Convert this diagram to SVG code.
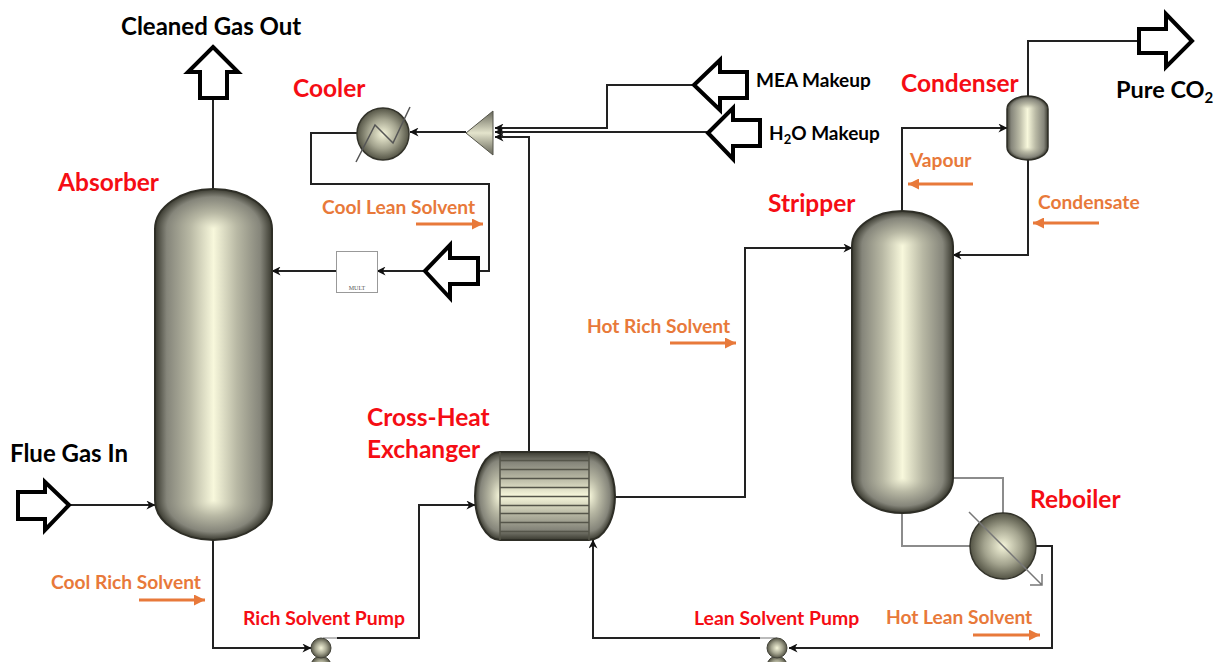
<svg xmlns="http://www.w3.org/2000/svg" width="1218" height="662" viewBox="0 0 1218 662">
<style>
text{font-family:Lato,Carlito,"Open Sans",sans-serif;font-weight:700}
.r{fill:#f50d14;font-size:24.5px}
.k{fill:#000;font-size:24px}
.m{fill:#000;font-size:19px}
.o{fill:#e8793a;font-size:19.200px}
.p{fill:#f50d14;font-size:19.400px}
.c{fill:none;stroke:#222;stroke-width:2}
.g{fill:none;stroke:#8c8c8c;stroke-width:2}
.big{fill:#fff;stroke:#000;stroke-width:4;stroke-linejoin:miter}
.oa{fill:none;stroke:#e8793a;stroke-width:3}
.o1{fill:none;stroke:#2e2e26;stroke-width:2}
</style>
<defs>
<linearGradient id="cyl" x1="0" x2="1" y1="0" y2="0"><stop offset="0" stop-color="#3a3a30"/><stop offset=".1" stop-color="#85857a"/><stop offset=".3" stop-color="#b8b8a4"/><stop offset=".5" stop-color="#f8f8dc"/><stop offset=".7" stop-color="#b8b8a4"/><stop offset=".9" stop-color="#85857a"/><stop offset="1" stop-color="#3a3a30"/></linearGradient>
<linearGradient id="cylv" x1="0" x2="0" y1="0" y2="1"><stop offset="0" stop-color="#3a3a30"/><stop offset=".12" stop-color="#85857a"/><stop offset=".3" stop-color="#b8b8a4"/><stop offset=".5" stop-color="#f8f8dc"/><stop offset=".7" stop-color="#b8b8a4"/><stop offset=".88" stop-color="#85857a"/><stop offset="1" stop-color="#3a3a30"/></linearGradient>
<radialGradient id="domeT" cx="0" cy="0" r="1" gradientTransform="translate(.5 1) scale(.5 1)"><stop offset="0" stop-color="#f8f8dc"/><stop offset=".4" stop-color="#b8b8a4"/><stop offset=".8" stop-color="#85857a"/><stop offset="1" stop-color="#3a3a30"/></radialGradient>
<radialGradient id="domeB" cx="0" cy="0" r="1" gradientTransform="translate(.5 0) scale(.5 1)"><stop offset="0" stop-color="#f8f8dc"/><stop offset=".4" stop-color="#b8b8a4"/><stop offset=".8" stop-color="#85857a"/><stop offset="1" stop-color="#3a3a30"/></radialGradient>
<radialGradient id="capL" cx="0" cy="0" r="1" gradientTransform="translate(1 .5) scale(1 .5)"><stop offset="0" stop-color="#f8f8dc"/><stop offset=".4" stop-color="#b8b8a4"/><stop offset=".8" stop-color="#85857a"/><stop offset="1" stop-color="#3a3a30"/></radialGradient>
<radialGradient id="capR" cx="0" cy="0" r="1" gradientTransform="translate(0 .5) scale(1 .5)"><stop offset="0" stop-color="#f8f8dc"/><stop offset=".4" stop-color="#b8b8a4"/><stop offset=".8" stop-color="#85857a"/><stop offset="1" stop-color="#3a3a30"/></radialGradient>
<radialGradient id="ball" cx=".5" cy=".5" r=".52"><stop offset="0" stop-color="#f5f5da"/><stop offset=".55" stop-color="#a3a38e"/><stop offset="1" stop-color="#4c4c3e"/></radialGradient>
<linearGradient id="tri" x1="0" x2="0" y1="0" y2="1"><stop offset="0" stop-color="#66665a"/><stop offset=".5" stop-color="#e4e4cc"/><stop offset="1" stop-color="#66665a"/></linearGradient>
<marker id="a" viewBox="0 0 10 10" refX="9.500" refY="5" markerWidth="9" markerHeight="9" markerUnits="userSpaceOnUse" orient="auto"><path d="M0 0L10 5L0 10L3 5Z" fill="#111"/></marker>
<marker id="oh" viewBox="0 0 10 10" refX="10" refY="5" markerWidth="11" markerHeight="11" markerUnits="userSpaceOnUse" orient="auto"><path d="M0 0L10 5L0 10Z" fill="#e8793a"/></marker>
</defs>

<g id="connectors">
<path class="c" d="M213 98V189"/>
<path class="c" d="M70 505H155" marker-end="url(#a)"/>
<path class="c" d="M213 540V648H311" marker-end="url(#a)"/>
<path class="g" d="M323 638H337" style="stroke:#bbb"/>
<path class="c" d="M337 638H419V505H475" marker-end="url(#a)"/>
<path class="c" d="M529 452V137H495" marker-end="url(#a)"/>
<path class="c" d="M693 85H607V128H495" marker-end="url(#a)"/>
<path class="c" d="M707 132H495" marker-end="url(#a)"/>
<path class="c" d="M466 132H410" marker-end="url(#a)"/>
<path class="c" d="M357 133H311V184H489V271H478"/>
<path class="c" d="M424 271H377" marker-end="url(#a)"/>
<path class="c" d="M336 271H272" marker-end="url(#a)"/>
<path class="c" d="M615 497H745V248H852" marker-end="url(#a)"/>
<path class="c" d="M902 211V128H1007" marker-end="url(#a)"/>
<path class="c" d="M1028 96V41H1138"/>
<path class="c" d="M1028 160V255H953" marker-end="url(#a)"/>
<path class="g" d="M953 478H1003V513"/>
<path class="g" d="M902 513V546H970"/>
<path class="c" d="M1036 546H1052V648H789" marker-end="url(#a)"/>
<path class="c" d="M760 638H593V540" marker-end="url(#a)"/>
<path class="g" d="M777 638H760" style="stroke:#bbb"/>
</g>

<g id="absorber">
<rect x="155" y="229" width="117" height="271" fill="url(#cyl)"/>
<path fill="url(#domeT)" d="M155 229A58.500 40 0 0 1 272 229Z"/>
<path fill="url(#domeB)" d="M155 500A58.500 40 0 0 0 272 500Z"/>
<path class="o1" d="M155 229A58.500 40 0 0 1 272 229V500A58.500 40 0 0 1 155 500Z"/>
</g>
<g id="stripper">
<rect x="852" y="246" width="101" height="232" fill="url(#cyl)"/>
<path fill="url(#domeT)" d="M852 246A50.500 35 0 0 1 953 246Z"/>
<path fill="url(#domeB)" d="M852 478A50.500 35 0 0 0 953 478Z"/>
<path class="o1" d="M852 246A50.500 35 0 0 1 953 246V478A50.500 35 0 0 1 852 478Z"/>
</g>
<g id="condenser">
<rect x="1007" y="109" width="41" height="38" fill="url(#cyl)"/>
<path fill="url(#domeT)" d="M1007 109A20.500 13 0 0 1 1048 109Z"/>
<path fill="url(#domeB)" d="M1007 147A20.500 13 0 0 0 1048 147Z"/>
<path class="o1" style="stroke-width:1.500" d="M1007 109A20.500 13 0 0 1 1048 109V147A20.500 13 0 0 1 1007 147Z"/>
</g>
<g id="cross-heat-exchanger">
<path fill="url(#capL)" d="M500 452A25 44 0 0 0 500 540Z"/>
<path fill="url(#capR)" d="M589 452A26 44 0 0 1 589 540Z"/>
<rect x="500" y="452" width="89" height="88" fill="url(#cylv)"/>
<path class="o1" d="M500 452A25 44 0 0 0 500 540H589A26 44 0 0 0 589 452Z"/>
<path fill="none" stroke="#55554a" stroke-width="1.500" d="M500 452V540M589 452V540M500 460.500H589M500 469.500H589M500 478.500H589M500 487.500H589M500 496.500H589M500 505.500H589M500 513.500H589M500 522.500H589M500 531.500H589"/>
</g>
<g id="cooler">
<circle cx="383" cy="134" r="26" fill="url(#ball)" stroke="#33332a" stroke-width="1.500"/>
<path fill="none" stroke="#555" stroke-width="1.500" d="M356 162L375 125L393 143L410 107"/>
</g>
<g id="reboiler">
<circle cx="1003" cy="546" r="33" fill="url(#ball)" stroke="#33332a" stroke-width="1.500"/>
<path fill="none" stroke="#777" stroke-width="1.500" d="M969 512L1042 585M1042 574V585H1030"/>
</g>
<g id="splitter"><path d="M466 133L493 111V155Z" fill="url(#tri)" stroke="#55554a"/></g>
<g id="mult">
<rect x="336.500" y="251.500" width="41" height="41" fill="#fff" stroke="#999"/>
<text x="357" y="290" text-anchor="middle" style="font-family:'Liberation Serif',serif;font-size:6px;font-weight:400;fill:#555">MULT</text>
</g>
<g id="rich-pump">
<circle cx="321" cy="666" r="10" fill="url(#ball)" stroke="#44443a"/>
<circle cx="321" cy="648" r="10" fill="url(#ball)" stroke="#44443a"/>
</g>
<g id="lean-pump">
<circle cx="777" cy="666" r="10" fill="url(#ball)" stroke="#44443a"/>
<circle cx="777" cy="648" r="10" fill="url(#ball)" stroke="#44443a"/>
</g>

<g id="big-arrows">
<path id="gas-out" class="big" d="M213 47L238 72H227V98H200V72H188Z"/>
<path id="flue-in" class="big" d="M69 505L45 482V492H18V519H45V530Z"/>
<path id="co2-out" class="big" d="M1192 41L1166 14V29H1139V53H1166V67Z"/>
<path id="mea" class="big" d="M694 85L720 60V72H747V98H720V110Z"/>
<path id="h2o" class="big" d="M708 133L733 108V120H760V146H733V159Z"/>
<path id="lean-feed" class="big" d="M425 271L450 245V258H478V284H450V298Z"/>
</g>

<g id="flow-arrows">
<path class="oa" d="M416 224H483" marker-end="url(#oh)"/>
<path class="oa" d="M139 600H205" marker-end="url(#oh)"/>
<path class="oa" d="M670 343H736" marker-end="url(#oh)"/>
<path class="oa" d="M973 184H908" marker-end="url(#oh)"/>
<path class="oa" d="M1099 223H1033" marker-end="url(#oh)"/>
<path class="oa" d="M973 635H1040" marker-end="url(#oh)"/>
</g>

<g id="labels">
<text class="k" x="121" y="35">Cleaned Gas Out</text>
<text class="r" x="293" y="97">Cooler</text>
<text class="r" x="58" y="191">Absorber</text>
<text class="r" x="901" y="92">Condenser</text>
<text class="r" x="768" y="212">Stripper</text>
<text class="r" x="367" y="426">Cross-Heat</text>
<text class="r" x="367" y="458">Exchanger</text>
<text class="r" x="1030" y="508">Reboiler</text>
<text class="k" x="10" y="462">Flue Gas In</text>
<text class="k" style="font-size:23.500px" x="1116" y="98">Pure CO<tspan font-size="15" dy="5">2</tspan></text>
<text class="m" x="756" y="87">MEA Makeup</text>
<text class="m" x="769" y="140">H<tspan font-size="13" dy="4">2</tspan><tspan dy="-4">O Makeup</tspan></text>
<text class="o" x="322" y="214">Cool Lean Solvent</text>
<text class="o" x="51" y="589">Cool Rich Solvent</text>
<text class="o" x="587" y="333">Hot Rich Solvent</text>
<text class="o" x="910" y="167">Vapour</text>
<text class="o" x="1038" y="209">Condensate</text>
<text class="o" x="886" y="624">Hot Lean Solvent</text>
<text class="p" x="243" y="625">Rich Solvent Pump</text>
<text class="p" x="694" y="625">Lean Solvent Pump</text>
</g>
</svg>
